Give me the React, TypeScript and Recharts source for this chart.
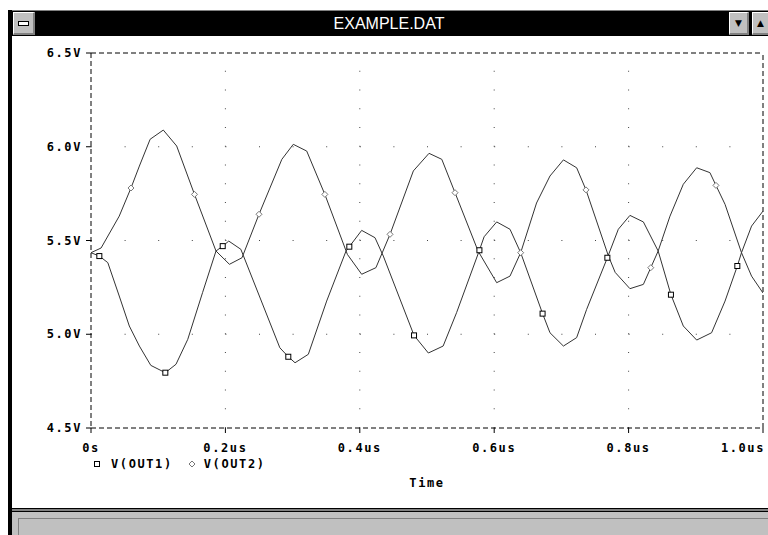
import React from 'react';
import { ComposedChart, Line, XAxis, YAxis, ReferenceLine, Legend } from 'recharts';

// simulation vertices, [time us, volts]
const out1: [number, number][] = [
  [0, 5.435], [0.0124, 5.417], [0.025, 5.382], [0.042, 5.204], [0.057, 5.044],
  [0.072, 4.937], [0.089, 4.834], [0.1106, 4.795], [0.1265, 4.84], [0.144, 4.973],
  [0.166, 5.222], [0.186, 5.444], [0.196, 5.47], [0.205, 5.497], [0.223, 5.453],
  [0.281, 4.928], [0.2936, 4.88], [0.3036, 4.848], [0.3234, 4.893], [0.3507, 5.177],
  [0.3795, 5.444], [0.3844, 5.467], [0.4028, 5.554], [0.4226, 5.515], [0.435, 5.417],
  [0.4807, 4.994], [0.502, 4.9], [0.524, 4.937], [0.544, 5.115], [0.578, 5.448],
  [0.585, 5.52], [0.6037, 5.599], [0.6235, 5.56], [0.6394, 5.435], [0.672, 5.11],
  [0.683, 5.008], [0.703, 4.937], [0.7227, 4.982], [0.7376, 5.133], [0.7684, 5.408],
  [0.7847, 5.56], [0.802, 5.634], [0.822, 5.599], [0.844, 5.444], [0.863, 5.211],
  [0.8814, 5.044], [0.9013, 4.969], [0.9235, 5.008], [0.9435, 5.177], [0.9618, 5.364],
  [0.968, 5.435], [0.983, 5.577], [1.0, 5.657],
];

const out2: [number, number][] = [
  [0, 5.435], [0.015, 5.46], [0.042, 5.63], [0.0595, 5.78], [0.072, 5.897],
  [0.088, 6.04], [0.1076, 6.089], [0.1275, 6.004], [0.154, 5.746], [0.186, 5.444],
  [0.206, 5.373], [0.2247, 5.408], [0.25, 5.64], [0.284, 5.933], [0.301, 6.013],
  [0.321, 5.977], [0.348, 5.746], [0.3815, 5.426], [0.4028, 5.32], [0.424, 5.355],
  [0.445, 5.533], [0.4797, 5.871], [0.503, 5.965], [0.522, 5.933], [0.5417, 5.755],
  [0.576, 5.444], [0.6037, 5.275], [0.6235, 5.31], [0.6394, 5.435], [0.663, 5.7],
  [0.683, 5.844], [0.703, 5.93], [0.7227, 5.888], [0.7366, 5.77], [0.77, 5.417],
  [0.78, 5.33], [0.802, 5.243], [0.822, 5.266], [0.833, 5.355], [0.844, 5.444],
  [0.8616, 5.63], [0.8814, 5.8], [0.9013, 5.888], [0.921, 5.862], [0.93, 5.794],
  [0.9435, 5.693], [0.968, 5.435], [0.983, 5.31], [1.0, 5.22],
];

const out1Marks: [number, number][] = [
  [0.0124, 5.417], [0.1106, 4.795], [0.196, 5.47], [0.2936, 4.88], [0.3844, 5.467],
  [0.4807, 4.994], [0.578, 5.448], [0.672, 5.11], [0.7684, 5.408], [0.863, 5.211],
  [0.9618, 5.364],
];

const out2Marks: [number, number][] = [
  [0.0595, 5.78], [0.154, 5.746], [0.25, 5.64], [0.348, 5.746], [0.445, 5.533],
  [0.5417, 5.755], [0.6394, 5.435], [0.7366, 5.77], [0.833, 5.355], [0.93, 5.794],
];

const xTicks = [0, 0.2, 0.4, 0.6, 0.8, 1.0];
const yTicks = [4.5, 5.0, 5.5, 6.0, 6.5];
const gridX = [0.2, 0.4, 0.6, 0.8];
const gridY = [5.0, 5.5, 6.0];
const seriesNames = ['V(OUT1)', 'V(OUT2)'];
const windowTitle = 'EXAMPLE.DAT';
const xTitle = 'Time';

const toRows = (pts: [number, number][]) => pts.map(([t, v]) => ({ t, v }));

const mono = {
  fontFamily: '"DejaVu Sans Mono", monospace',
  fontWeight: 'bold' as const,
  fontSize: 12,
  letterSpacing: 1.6,
};

const frameDash = '5 3';

const SquareDot = (props: any) => {
  const { cx, cy, index } = props;
  return <rect key={`sq-${index}`} x={cx - 2.5} y={cy - 2.5} width={5} height={5} fill="#fff" stroke="#000" strokeWidth={1} />;
};

const DiamondDot = (props: any) => {
  const { cx, cy, index } = props;
  return (
    <path key={`dm-${index}`} d={`M${cx},${cy - 3}L${cx + 3},${cy}L${cx},${cy + 3}L${cx - 3},${cy}Z`} fill="#fff" stroke="#777" strokeWidth={1} />
  );
};

const XTick = (props: any) => {
  const { x, y, payload } = props;
  const v = payload.value as number;
  const last = v === xTicks[xTicks.length - 1];
  const text = v === 0 ? '0s' : `${v.toFixed(1)}us`;
  return (
    <text x={last ? x + 2 : x} y={y + 17} textAnchor={last ? 'end' : 'middle'} fill="#000" style={mono}>
      {text}
    </text>
  );
};

const YTick = (props: any) => {
  const { x, y, payload } = props;
  return (
    <text x={x} y={y + 4} textAnchor="end" fill="#000" style={mono}>
      {`${(payload.value as number).toFixed(1)}V`}
    </text>
  );
};

const renderLegend = () => (
  <div style={{ ...mono, display: 'flex', alignItems: 'center', color: '#000' }}>
    <svg width={10} height={10} style={{ marginRight: 9 }}>
      <rect x={2.5} y={2.5} width={5} height={5} fill="#fff" stroke="#000" />
    </svg>
    <span>{seriesNames[0]}</span>
    <svg width={10} height={10} style={{ marginLeft: 14, marginRight: 7 }}>
      <path d="M5,2L8,5L5,8L2,5Z" fill="#fff" stroke="#777" />
    </svg>
    <span>{seriesNames[1]}</span>
  </div>
);

const btn = {
  position: 'absolute' as const,
  top: 12,
  height: 23,
  background: '#c0c0c0',
  borderTop: '1px solid #fff',
  borderLeft: '1px solid #fff',
  borderBottom: '2px solid #808080',
  borderRight: '2px solid #808080',
  boxSizing: 'border-box' as const,
  display: 'flex',
  alignItems: 'center',
  justifyContent: 'center',
  fontSize: 9,
  color: '#000',
  fontFamily: '"DejaVu Sans", sans-serif',
};

const Chrome = () => (
  <>
    <div style={{ position: 'absolute', left: 8, top: 10, width: 760, height: 1, background: '#808080' }} />
    <div style={{ position: 'absolute', left: 8, top: 10, width: 4, height: 525, background: '#000' }} />
    <div style={{ position: 'absolute', left: 12, top: 11, width: 756, height: 25, background: '#000' }} />
    <div style={{ ...btn, left: 13, width: 22 }}>
      <div style={{ width: 9, height: 3, background: '#fff', border: '1px solid #000' }} />
    </div>
    <div
      style={{
        position: 'absolute', left: 0, width: 778, top: 13, height: 22, textAlign: 'center',
        color: '#fff', fontFamily: '"Liberation Sans", Arial, sans-serif', fontSize: 16, lineHeight: '22px',
      }}
    >
      {windowTitle}
    </div>
    <div style={{ ...btn, left: 729, width: 20 }}>▼</div>
    <div style={{ position: 'absolute', left: 749, top: 11, width: 3, height: 25, background: '#000' }} />
    <div style={{ ...btn, left: 752, width: 18 }}>▲</div>
    <div style={{ position: 'absolute', left: 12, top: 508, width: 756, height: 1, background: '#000' }} />
    <div style={{ position: 'absolute', left: 12, top: 509, width: 756, height: 2, background: '#808080' }} />
    <div style={{ position: 'absolute', left: 12, top: 511, width: 756, height: 1, background: '#000' }} />
    <div style={{ position: 'absolute', left: 12, top: 512, width: 756, height: 23, background: '#c0c0c0' }} />
    <div
      style={{
        position: 'absolute', left: 18, top: 518, width: 760, height: 20, background: '#c0c0c0',
        borderTop: '1px solid #808080', borderLeft: '1px solid #808080',
      }}
    />
  </>
);

export default function App() {
  return (
    <div style={{ position: 'fixed', left: 0, top: 0, width: 768, height: 535, background: '#fff', overflow: 'hidden' }}>
      <Chrome />
      <div style={{ position: 'absolute', left: 0, top: 0 }}>
        <ComposedChart width={768} height={535} margin={{ top: 53, right: 5, left: 11, bottom: 77 }}>
          <XAxis
            type="number"
            dataKey="t"
            domain={[0, 1]}
            ticks={xTicks}
            allowDataOverflow
            tickSize={5}
            tickMargin={2}
            height={30}
            stroke="#000"
            axisLine={{ stroke: '#000', strokeDasharray: frameDash }}
            tickLine={{ stroke: '#000' }}
            tick={<XTick />}
            label={{ value: xTitle, position: 'bottom', offset: 20, style: { ...mono, fill: '#000' } }}
          />
          <YAxis
            type="number"
            domain={[4.5, 6.5]}
            ticks={yTicks}
            allowDataOverflow
            width={80}
            tickSize={5}
            tickMargin={4}
            stroke="#000"
            axisLine={{ stroke: '#000', strokeDasharray: frameDash }}
            tickLine={{ stroke: '#000' }}
            tick={<YTick />}
          />
          {gridY.map((v) => (
            <ReferenceLine key={`gy-${v}`} y={v} stroke="#444" strokeDasharray="1 32.6" />
          ))}
          {gridX.map((v) => (
            <ReferenceLine key={`gx-${v}`} x={v} stroke="#444" strokeDasharray="1 17.75" />
          ))}
          <ReferenceLine y={yTicks[yTicks.length - 1]} stroke="#000" strokeDasharray={frameDash} />
          <ReferenceLine x={xTicks[xTicks.length - 1]} stroke="#000" strokeDasharray={frameDash} />
          <Line data={toRows(out1)} dataKey="v" name={seriesNames[0]} type="linear" stroke="#333" strokeWidth={1} dot={false} isAnimationActive={false} />
          <Line data={toRows(out2)} dataKey="v" name={seriesNames[1]} type="linear" stroke="#333" strokeWidth={1} dot={false} isAnimationActive={false} />
          <Line data={toRows(out1Marks)} dataKey="v" stroke="none" dot={SquareDot} legendType="none" isAnimationActive={false} />
          <Line data={toRows(out2Marks)} dataKey="v" stroke="none" dot={DiamondDot} legendType="none" isAnimationActive={false} />
          <Legend
            layout="horizontal"
            verticalAlign="middle"
            align="center"
            content={renderLegend}
            wrapperStyle={{ left: 92, top: 457, width: 300, height: 16 }}
          />
        </ComposedChart>
      </div>
    </div>
  );
}
